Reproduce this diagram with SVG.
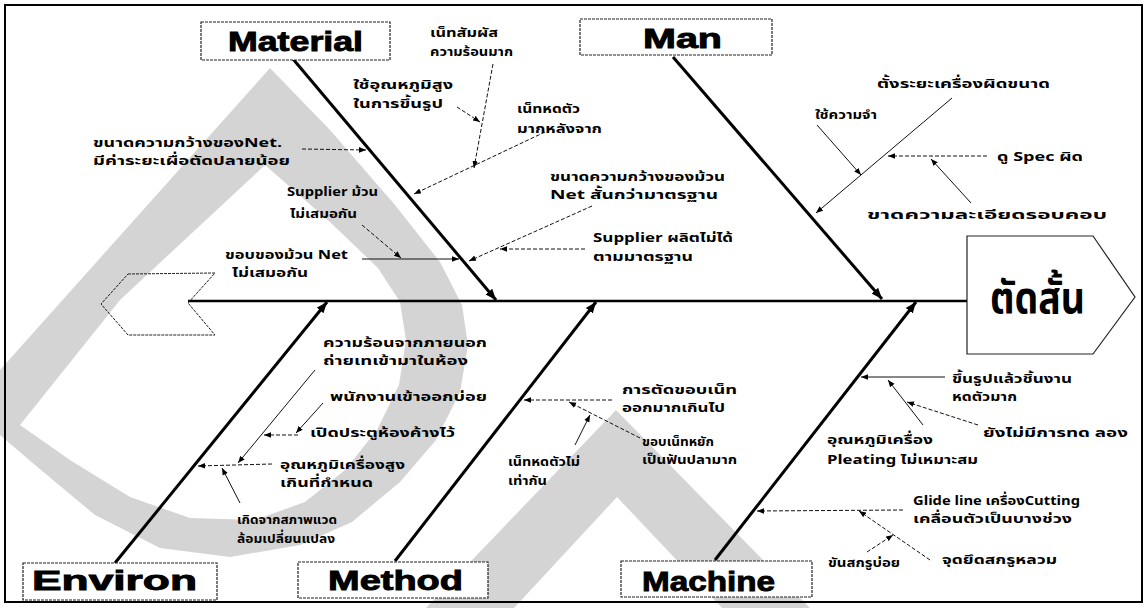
<svg xmlns="http://www.w3.org/2000/svg" width="1147" height="608" viewBox="0 0 1147 608">
<style>
.t{font-family:'Noto Sans Thai','Noto Sans','Liberation Sans',sans-serif;font-size:13px;font-weight:bold;fill:#000}
.cat{font-family:'Liberation Sans',Arial,sans-serif;font-size:27px;font-weight:bold;fill:#000;stroke:#000;stroke-width:0.9}
.box{fill:#fff;stroke:#222;stroke-width:1.2;stroke-dasharray:3 1}
.bone{stroke:#000;stroke-width:3;fill:none}
.sd{stroke:#111;stroke-width:1;fill:none;stroke-dasharray:4 2}
.ss{stroke:#111;stroke-width:1;fill:none}
.wm{fill:#d4d4d4;stroke:none}
</style>
<defs>
<marker id="a" viewBox="0 0 10 10" refX="10" refY="5" markerWidth="7" markerHeight="7" markerUnits="userSpaceOnUse" orient="auto"><path d="M0,1 L10,5 L0,9 z" fill="#000"/></marker>
<marker id="b" viewBox="0 0 10 10" refX="10" refY="5" markerWidth="11" markerHeight="11" markerUnits="userSpaceOnUse" orient="auto"><path d="M0,1 L10,5 L0,9 z" fill="#000"/></marker>
</defs>
<rect width="1147" height="608" fill="#fff"/>
<g id="watermark">
<path class="wm" fill-rule="evenodd" d="M270,68 L330,130 L395,205 L440,262 L462,305 L468,345 L460,392 L436,440 L400,482 L352,522 L300,545 L230,557 L160,548 L95,515 L35,465 L0,435 L0,370 Z M265,165 L330,222 L378,268 L400,302 L406,340 L399,385 L377,430 L345,470 L305,502 L255,520 L190,518 L130,497 L70,460 L20,425 L120,300 Z"/>
<path class="wm" d="M616,410 L810,608 L722,608 L617,497 L514,608 L426,608 Z"/>
</g>
<rect x="5" y="5" width="1137" height="597" fill="none" stroke="#000" stroke-width="2"/>
<g id="connectors">
<path d="M188,301 L967,301" stroke="#000" stroke-width="2.5"/>
<path class="bone" d="M293,59 L496,300" marker-end="url(#b)"/>
<path class="bone" d="M673,57 L882,299" marker-end="url(#b)"/>
<path class="bone" d="M115,563 L327,302" marker-end="url(#b)"/>
<path class="bone" d="M395,561 L596,302" marker-end="url(#b)"/>
<path class="bone" d="M715,560 L916,302" marker-end="url(#b)"/>
<path class="sd" d="M302,149 L366,150" marker-end="url(#a)"/>
<path class="sd" d="M545,132 L414,194" marker-end="url(#a)"/>
<path class="sd" d="M493,64 L474,168" marker-end="url(#a)"/>
<path class="sd" d="M457,107 L480,122" marker-end="url(#a)"/>
<path class="sd" d="M592,206 L469,261" marker-end="url(#a)"/>
<path class="sd" d="M585,249 L500,249" marker-end="url(#a)"/>
<path class="sd" d="M362,225 L401,258" marker-end="url(#a)"/>
<path class="ss" d="M362,259 L459,259" marker-end="url(#a)"/>
<path class="ss" d="M952,98 L816,213" marker-end="url(#a)"/>
<path class="ss" d="M817,125 L861,175" marker-end="url(#a)"/>
<path class="sd" d="M987,156 L888,156" marker-end="url(#a)"/>
<path class="ss" d="M971,203 L931,159" marker-end="url(#a)"/>
<path class="sd" d="M272,464 L198,466" marker-end="url(#a)"/>
<path class="ss" d="M240,503 L222,468" marker-end="url(#a)"/>
<path class="ss" d="M315,370 L238,463" marker-end="url(#a)"/>
<path class="sd" d="M298,435 L264,435" marker-end="url(#a)"/>
<path class="ss" d="M323,403 L296,433" marker-end="url(#a)"/>
<path class="sd" d="M612,400 L524,400" marker-end="url(#a)"/>
<path class="sd" d="M640,438 L569,402" marker-end="url(#a)"/>
<path class="ss" d="M575,445 L590,415" marker-end="url(#a)"/>
<path class="ss" d="M945,377 L861,377" marker-end="url(#a)"/>
<path class="ss" d="M923,425 L888,380" marker-end="url(#a)"/>
<path class="sd" d="M978,425 L907,402" marker-end="url(#a)"/>
<path class="sd" d="M903,510 L757,511" marker-end="url(#a)"/>
<path class="sd" d="M930,560 L859,511" marker-end="url(#a)"/>
<path class="sd" d="M867,552 L893,535" marker-end="url(#a)"/>
</g>
<g id="tail"><path d="M128,274 L215,273 L188,303 L215,335 L128,335 L101,304 Z" fill="none" stroke="#222" stroke-width="1" stroke-dasharray="3 1"/></g>
<g id="head"><path d="M967,236 L1093,236 L1135,297 L1093,354 L967,354 Z" fill="#fff" stroke="#222" stroke-width="1.2"/>
<text x="990" y="313" class="t" style="font-size:44px" textLength="95" lengthAdjust="spacingAndGlyphs">ตัดสั้น</text></g>
<g id="material"><rect class="box" x="201" y="22" width="189" height="38"/><text class="cat" x="228" y="51" textLength="135" lengthAdjust="spacingAndGlyphs">Material</text></g>
<g id="man"><rect class="box" x="580" y="19" width="192" height="36"/><text class="cat" x="643" y="48" textLength="79" lengthAdjust="spacingAndGlyphs">Man</text></g>
<g id="environ"><rect class="box" x="23" y="563" width="194" height="37"/><text class="cat" x="32" y="590" textLength="165" lengthAdjust="spacingAndGlyphs">Environ</text></g>
<g id="method"><rect class="box" x="298" y="562" width="190" height="36"/><text class="cat" x="328" y="590" textLength="135" lengthAdjust="spacingAndGlyphs">Method</text></g>
<g id="machine"><rect class="box" x="621" y="561" width="191" height="36"/><text class="cat" x="642" y="591" textLength="133" lengthAdjust="spacingAndGlyphs">Machine</text></g>
<g id="material-causes">
<text class="t" x="430" y="37" textLength="68" lengthAdjust="spacingAndGlyphs">เน็ทสัมผัส</text>
<text class="t" x="430" y="56" textLength="83" lengthAdjust="spacingAndGlyphs">ความร้อนมาก</text>
<text class="t" x="353" y="89" textLength="100" lengthAdjust="spacingAndGlyphs">ใช้อุณหภูมิสูง</text>
<text class="t" x="353" y="108" textLength="90" lengthAdjust="spacingAndGlyphs">ในการขึ้นรูป</text>
<text class="t" x="517" y="113" textLength="63" lengthAdjust="spacingAndGlyphs">เน็ทหดตัว</text>
<text class="t" x="517" y="133" textLength="85" lengthAdjust="spacingAndGlyphs">มากหลังจาก</text>
<text class="t" x="93" y="147" textLength="189" lengthAdjust="spacingAndGlyphs">ขนาดความกว้างของNet.</text>
<text class="t" x="93" y="165" textLength="197" lengthAdjust="spacingAndGlyphs">มีค่าระยะเผื่อตัดปลายน้อย</text>
<text class="t" x="550" y="181" textLength="175" lengthAdjust="spacingAndGlyphs">ขนาดความกว้างของม้วน</text>
<text class="t" x="550" y="199" textLength="168" lengthAdjust="spacingAndGlyphs">Net สั้นกว่ามาตรฐาน</text>
<text class="t" x="593" y="242" textLength="140" lengthAdjust="spacingAndGlyphs">Supplier ผลิตไม่ได้</text>
<text class="t" x="593" y="261" textLength="100" lengthAdjust="spacingAndGlyphs">ตามมาตรฐาน</text>
<text class="t" x="287" y="196" textLength="91" lengthAdjust="spacingAndGlyphs">Supplier ม้วน</text>
<text class="t" x="290" y="218" textLength="67" lengthAdjust="spacingAndGlyphs">ไม่เสมอกัน</text>
<text class="t" x="225" y="259" textLength="123" lengthAdjust="spacingAndGlyphs">ขอบของม้วน Net</text>
<text class="t" x="232" y="277" textLength="76" lengthAdjust="spacingAndGlyphs">ไม่เสมอกัน</text>
</g>
<g id="man-causes">
<text class="t" x="877" y="88" textLength="173" lengthAdjust="spacingAndGlyphs">ตั้งระยะเครื่องผิดขนาด</text>
<text class="t" x="815" y="119" textLength="62" lengthAdjust="spacingAndGlyphs">ใช้ความจำ</text>
<text class="t" x="997" y="161" textLength="86" lengthAdjust="spacingAndGlyphs">ดู Spec ผิด</text>
<text class="t" x="867" y="219" textLength="240" lengthAdjust="spacingAndGlyphs">ขาดความละเอียดรอบคอบ</text>
</g>
<g id="environ-causes">
<text class="t" x="323" y="347" textLength="164" lengthAdjust="spacingAndGlyphs">ความร้อนจากภายนอก</text>
<text class="t" x="323" y="365" textLength="145" lengthAdjust="spacingAndGlyphs">ถ่ายเทเข้ามาในห้อง</text>
<text class="t" x="330" y="401" textLength="157" lengthAdjust="spacingAndGlyphs">พนักงานเข้าออกบ่อย</text>
<text class="t" x="310" y="437" textLength="145" lengthAdjust="spacingAndGlyphs">เปิดประตูห้องค้างไว้</text>
<text class="t" x="280" y="469" textLength="125" lengthAdjust="spacingAndGlyphs">อุณหภูมิเครื่องสูง</text>
<text class="t" x="280" y="487" textLength="93" lengthAdjust="spacingAndGlyphs">เกินที่กำหนด</text>
<text class="t" x="237" y="524" textLength="100" lengthAdjust="spacingAndGlyphs">เกิดจากสภาพแวด</text>
<text class="t" x="237" y="543" textLength="98" lengthAdjust="spacingAndGlyphs">ล้อมเปลี่ยนแปลง</text>
</g>
<g id="method-causes">
<text class="t" x="622" y="394" textLength="115" lengthAdjust="spacingAndGlyphs">การตัดขอบเน็ท</text>
<text class="t" x="622" y="412" textLength="103" lengthAdjust="spacingAndGlyphs">ออกมากเกินไป</text>
<text class="t" x="642" y="446" textLength="72" lengthAdjust="spacingAndGlyphs">ขอบเน็ทหยัก</text>
<text class="t" x="642" y="464" textLength="95" lengthAdjust="spacingAndGlyphs">เป็นฟันปลามาก</text>
<text class="t" x="508" y="466" textLength="72" lengthAdjust="spacingAndGlyphs">เน็ทหดตัวไม่</text>
<text class="t" x="508" y="485" textLength="39" lengthAdjust="spacingAndGlyphs">เท่ากัน</text>
</g>
<g id="machine-causes">
<text class="t" x="952" y="383" textLength="120" lengthAdjust="spacingAndGlyphs">ขึ้นรูปแล้วชิ้นงาน</text>
<text class="t" x="952" y="401" textLength="65" lengthAdjust="spacingAndGlyphs">หดตัวมาก</text>
<text class="t" x="983" y="437" textLength="145" lengthAdjust="spacingAndGlyphs">ยังไม่มีการทด ลอง</text>
<text class="t" x="827" y="444" textLength="106" lengthAdjust="spacingAndGlyphs">อุณหภูมิเครื่อง</text>
<text class="t" x="827" y="464" textLength="151" lengthAdjust="spacingAndGlyphs">Pleating ไม่เหมาะสม</text>
<text class="t" x="913" y="505" textLength="167" lengthAdjust="spacingAndGlyphs">Glide line เครื่องCutting</text>
<text class="t" x="913" y="523" textLength="159" lengthAdjust="spacingAndGlyphs">เคลื่อนตัวเป็นบางช่วง</text>
<text class="t" x="942" y="564" textLength="115" lengthAdjust="spacingAndGlyphs">จุดยึดสกรูหลวม</text>
<text class="t" x="828" y="567" textLength="72" lengthAdjust="spacingAndGlyphs">ขันสกรูบ่อย</text>
</g>
</svg>
